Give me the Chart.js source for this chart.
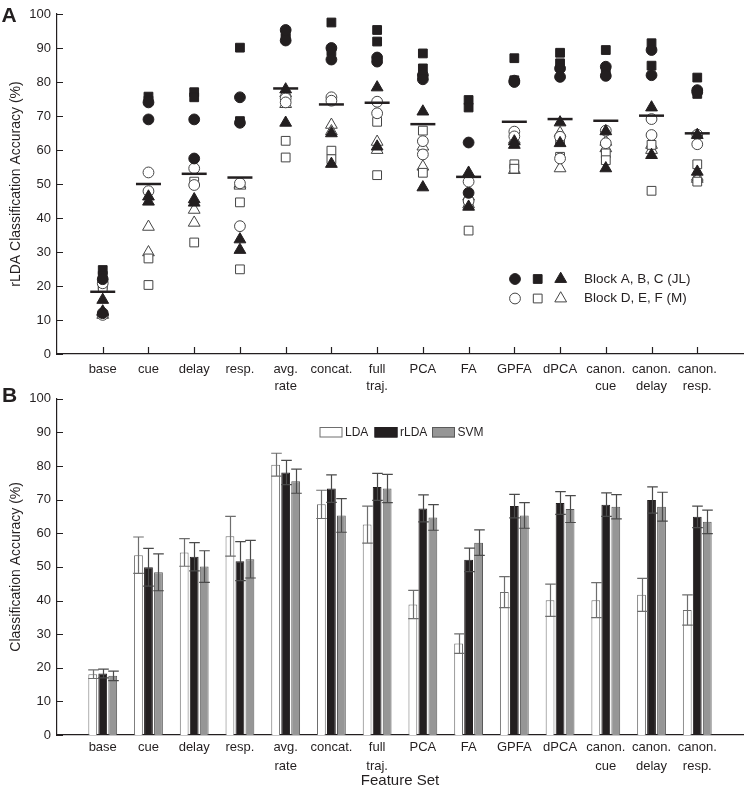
<!DOCTYPE html>
<html>
<head>
<meta charset="utf-8">
<script src="https://cdn.jsdelivr.net/npm/chart.js@4.4.1/dist/chart.umd.min.js"></script>
<style>
  html, body { margin: 0; padding: 0; background: #fff; width: 745px; height: 787px; overflow: hidden; }
  #wrap { position: relative; width: 745px; height: 787px; }
  #topChart { position: absolute; left: 0; top: 0; }
  #bottomChart { position: absolute; left: 0; top: 385px; }
</style>
</head>
<body>
<div id="wrap">
  <canvas id="topChart" width="745" height="400"></canvas>
  <canvas id="bottomChart" width="745" height="410"></canvas>
</div>
<script>
/* -----------------------------
 * Data
 * ----------------------------- */
const categories = [
  "base", "cue", "delay", "resp.", ["avg.", "rate"], "concat.", ["full", "traj."],
  "PCA", "FA", "GPFA", "dPCA", ["canon.", "cue"], ["canon.", "delay"], ["canon.", "resp."]
];
const yTicks = [0, 10, 20, 30, 40, 50, 60, 70, 80, 90, 100];

// panel A: two values per category for each block
const blockA = [[22, 12], [74, 69], [69, 57.5], [75.5, 68], [95.3, 92.2], [90, 86.6], [87.2, 86],
  [82, 80.8], [62.2, 47.4], [80.4, 80], [84, 81.5], [84.5, 81.8], [89.4, 82], [77.6, 77]];
const blockB = [[24.7, 23], [75.7, 74.5], [77, 75.5], [90.1, 68.5], [94, 93], [97.5, 89], [95.3, 91.9],
  [88.4, 84], [74.7, 72.5], [87, 80.5], [88.6, 85.5], [89.4, 83], [91.4, 84.8], [81.3, 76.5]];
const blockC = [[15.9, 12.5], [46.3, 44.8], [45.5, 44.5], [33.7, 30.6], [77.8, 68], [64.9, 55.9], [78.4, 61],
  [71.3, 49], [53.3, 43.3], [62.5, 61.5], [68.1, 62], [65.5, 54.6], [72.5, 58.5], [64.4, 53.6]];
const blockD = [[20.8, 11.5], [53.4, 47.9], [54.6, 49.7], [50.2, 37.6], [75.2, 74], [75.5, 74.5], [74.2, 70.8],
  [62.6, 58.7], [50.7, 45], [65.4, 64], [63.9, 57.5], [65.7, 62], [69.1, 64.4], [64.5, 61.7]];
const blockE = [[20.3, 19.5], [28.1, 20.3], [50.7, 32.8], [44.6, 24.9], [62.7, 57.8], [59.8, 57.3], [68.3, 52.6],
  [65.7, 53.3], [44.5, 36.3], [55.8, 54.5], [63, 58], [59, 57], [61.5, 48], [55.8, 50.7]];
const blockF = [[11.5, 12.2], [37.4, 29.9], [42.4, 38.6], [50, 49.5], [76.7, 73.5], [67.4, 65.5], [62.4, 60],
  [61, 55.1], [46.3, 44], [63, 54.1], [65, 54.6], [62.4, 60.5], [61.5, 60], [52.1, 51.5]];
const rldaMean = [18.3, 50, 53, 51.9, 78.1, 73.4, 73.9, 67.6, 52.1, 68.3, 69.1, 68.6, 70.1, 64.9];

// panel B
const ldaVals  = [18.1, 53.5, 54.3, 59.1, 80.4, 68.6, 62.6, 38.8, 27.2, 42.5, 40.1, 40.1, 41.7, 37.2];
const ldaErr   = [1.3, 5.4, 4.1, 5.9, 3.4, 4.2, 5.5, 4.2, 2.9, 4.6, 4.8, 5.2, 4.9, 4.5];
const rldaVals = [18.3, 49.9, 53.0, 51.7, 78.1, 73.3, 73.8, 67.4, 52.1, 68.1, 69.0, 68.5, 69.9, 64.9];
const rldaErr  = [1.3, 5.6, 4.2, 5.8, 3.6, 4.1, 4.0, 4.0, 3.5, 3.5, 3.4, 3.5, 3.9, 3.2];
const svmVals  = [17.6, 48.4, 50.1, 52.3, 75.5, 65.3, 73.3, 64.7, 57.2, 65.3, 67.2, 67.9, 67.9, 63.4];
const svmErr   = [1.4, 5.5, 4.7, 5.6, 3.6, 5.0, 4.2, 3.8, 3.8, 3.8, 4.0, 3.6, 4.3, 3.5];

/* -----------------------------
 * Style
 * ----------------------------- */
const INK = "#231f20";
const FONT = "'Liberation Sans', Arial, Helvetica, sans-serif";
const OPEN_EDGE = "#444";

function pairsToPoints(pairs) {
  const pts = [];
  pairs.forEach((p, i) => p.forEach((v) => pts.push({ x: i, y: v })));
  return pts;
}

function marker(label, pairs, style, radius, filled) {
  return {
    label,
    data: pairsToPoints(pairs),
    pointStyle: style,
    pointRadius: radius,
    pointHoverRadius: radius,
    pointBackgroundColor: filled ? INK : "#fff",
    pointBorderColor: filled ? INK : OPEN_EDGE,
    pointBorderWidth: 1,
  };
}

function xAxis(lineHeight, padding, height, extra = {}) {
  return {
    type: "linear",
    min: -1,
    max: 14,
    offset: false,
    afterBuildTicks: (ax) => { ax.ticks = categories.map((_, i) => ({ value: i })); },
    afterFit: (s) => {
      s.height = height;
      s.paddingLeft = 0;
      s.paddingRight = 0;
    },
    ticks: {
      autoSkip: false,
      maxRotation: 0,
      padding,
      color: INK,
      font: { family: FONT, size: 13, lineHeight },
      callback: (v) => categories[v],
    },
    grid: { display: false, drawTicks: false, offset: false },
    border: { color: INK, width: 1.2 },
    ...extra,
  };
}

function yAxis(title) {
  return {
    min: 0,
    max: 100,
    afterBuildTicks: (ax) => { ax.ticks = yTicks.map((v) => ({ value: v })); },
    afterFit: (s) => { s.width = 57; },
    ticks: { padding: 6, color: INK, font: { family: FONT, size: 13 } },
    grid: { display: false, drawTicks: false },
    border: { color: INK, width: 1.2 },
    title: { display: true, text: title, color: INK, font: { family: FONT, size: 14 }, padding: { top: 7.5, bottom: 0 } },
  };
}

/* -----------------------------
 * Plugins
 * ----------------------------- */
// ticks pointing into the plot area
function inwardTicks(withX) {
  return {
    id: "inwardTicks",
    afterDraw(chart) {
      const { ctx, chartArea, scales } = chart;
      ctx.save();
      ctx.strokeStyle = INK;
      ctx.lineWidth = 1.2;
      ctx.beginPath();
      yTicks.forEach((v) => {
        const y = Math.round(scales.y.getPixelForValue(v)) + 0.5;
        ctx.moveTo(chartArea.left, y);
        ctx.lineTo(chartArea.left + 6, y);
      });
      if (withX) {
        categories.forEach((_, i) => {
          const x = Math.round(scales.x.getPixelForValue(i)) + 0.5;
          ctx.moveTo(x, chartArea.bottom);
          ctx.lineTo(x, chartArea.bottom - 7);
        });
      }
      ctx.stroke();
      ctx.restore();
    },
  };
}

function panelLetter(letter, x, y) {
  return {
    id: "panelLetter",
    afterDraw(chart) {
      const ctx = chart.ctx;
      ctx.save();
      ctx.fillStyle = INK;
      ctx.font = `bold 21px ${FONT}`;
      ctx.textBaseline = "alphabetic";
      ctx.fillText(letter, x, y);
      ctx.restore();
    },
  };
}

const blockLegend = {
  id: "blockLegend",
  afterDraw(chart) {
    const ctx = chart.ctx;
    const rows = [
      { y: 279, filled: true, text: "Block A, B, C (JL)" },
      { y: 298.5, filled: false, text: "Block D, E, F (M)" },
    ];
    const shapes = [["circle", 5.4, 515], ["rect", 6.2, 537.7], ["triangle", 6.8, 560.7]];
    ctx.save();
    rows.forEach((row) => {
      shapes.forEach(([style, r, x]) => {
        ctx.fillStyle = row.filled ? INK : "#fff";
        ctx.strokeStyle = row.filled ? INK : OPEN_EDGE;
        ctx.lineWidth = 1;
        Chart.helpers.drawPoint(ctx, { pointStyle: style, radius: r, rotation: 0, borderWidth: 1 }, x, row.y);
      });
      ctx.fillStyle = INK;
      ctx.font = `13.5px ${FONT}`;
      ctx.textBaseline = "middle";
      ctx.fillText(row.text, 584, row.y);
    });
    ctx.restore();
  },
};

const errorBars = {
  id: "errorBars",
  afterDatasetsDraw(chart) {
    const { ctx, scales } = chart;
    ctx.save();
    ctx.lineWidth = 1.2;
    chart.data.datasets.forEach((ds, di) => {
      const meta = chart.getDatasetMeta(di);
      ctx.strokeStyle = ds.errorColor;
      meta.data.forEach((bar, i) => {
        const v = ds.data[i].y;
        const e = ds.errors[i];
        const x = Math.round(bar.x) + 0.5;
        const yTop = scales.y.getPixelForValue(v + e);
        const yBot = scales.y.getPixelForValue(v - e);
        ctx.beginPath();
        ctx.moveTo(x, yTop);
        ctx.lineTo(x, yBot);
        ctx.moveTo(x - 5.3, yTop);
        ctx.lineTo(x + 5.3, yTop);
        ctx.moveTo(x - 5.3, yBot);
        ctx.lineTo(x + 5.3, yBot);
        ctx.stroke();
      });
    });
    ctx.restore();
  },
};

const methodLegend = {
  id: "methodLegend",
  afterDraw(chart) {
    const ctx = chart.ctx;
    ctx.save();
    ctx.font = `12px ${FONT}`;
    ctx.textBaseline = "middle";
    chart.data.datasets.forEach((ds, i) => {
      const x = [319.5, 374.5, 432][i];
      ctx.fillStyle = ds.backgroundColor;
      ctx.strokeStyle = ds.borderColor;
      ctx.lineWidth = 1;
      ctx.fillRect(x, 42, 23, 10.5);
      ctx.strokeRect(x + 0.5, 42.5, 22, 9.5);
      ctx.fillStyle = INK;
      ctx.fillText(ds.label, x + 25.5, 47.5);
    });
    ctx.restore();
  },
};

/* -----------------------------
 * Panel A
 * ----------------------------- */
new Chart(document.getElementById("topChart"), {
  type: "scatter",
  data: {
    datasets: [
      {
        label: "mean",
        data: rldaMean.map((v, i) => ({ x: i, y: v })),
        pointStyle: "line",
        pointRadius: 12.5,
        pointHoverRadius: 12.5,
        pointBorderColor: INK,
        pointBorderWidth: 2.5,
      },
      marker("A", blockA, "circle", 5.4, true),
      marker("B", blockB, "rect", 6.2, true),
      marker("C", blockC, "triangle", 6.8, true),
      marker("D", blockD, "circle", 5.4, false),
      marker("E", blockE, "rect", 6.2, false),
      marker("F", blockF, "triangle", 6.8, false),
    ],
  },
  options: {
    responsive: false,
    animation: false,
    layout: { autoPadding: false, padding: { top: 14, right: 2, left: 0, bottom: 0 } },
    plugins: { legend: { display: false }, tooltip: { enabled: false } },
    scales: {
      x: xAxis(1.38, 6, 46),
      y: yAxis("rLDA Classification Accuracy (%)"),
    },
  },
  plugins: [inwardTicks(true), blockLegend, panelLetter("A", 1.5, 22)],
});

/* -----------------------------
 * Panel B
 * ----------------------------- */
function barSet(label, vals, errs, fill, edge, errorColor) {
  return {
    label,
    data: vals.map((v, i) => ({ x: i, y: v })),
    errors: errs,
    errorColor,
    backgroundColor: fill,
    borderColor: edge,
    borderWidth: 1,
    categoryPercentage: 0.656,
    barPercentage: 0.88,
  };
}

new Chart(document.getElementById("bottomChart"), {
  type: "bar",
  data: {
    datasets: [
      barSet("LDA", ldaVals, ldaErr, "#ffffff", "#6e6e6e", "#6e6e6e"),
      barSet("rLDA", rldaVals, rldaErr, "#231f20", "#231f20", "#4a4a4a"),
      barSet("SVM", svmVals, svmErr, "#969696", "#5a5a5a", "#4a4a4a"),
    ],
  },
  options: {
    responsive: false,
    animation: false,
    layout: { autoPadding: false, padding: { top: 9, right: 2, left: 0, bottom: 0 } },
    plugins: { legend: { display: false }, tooltip: { enabled: false } },
    scales: {
      x: xAxis(1.46, 2.5, 60, {
        title: { display: true, text: "Feature Set", color: INK, font: { family: FONT, size: 15 }, padding: { top: 0, bottom: 5 } },
      }),
      y: yAxis("Classification Accuracy (%)"),
    },
  },
  plugins: [errorBars, inwardTicks(false), methodLegend, panelLetter("B", 2, 16.7)],
});
</script>
</body>
</html>
